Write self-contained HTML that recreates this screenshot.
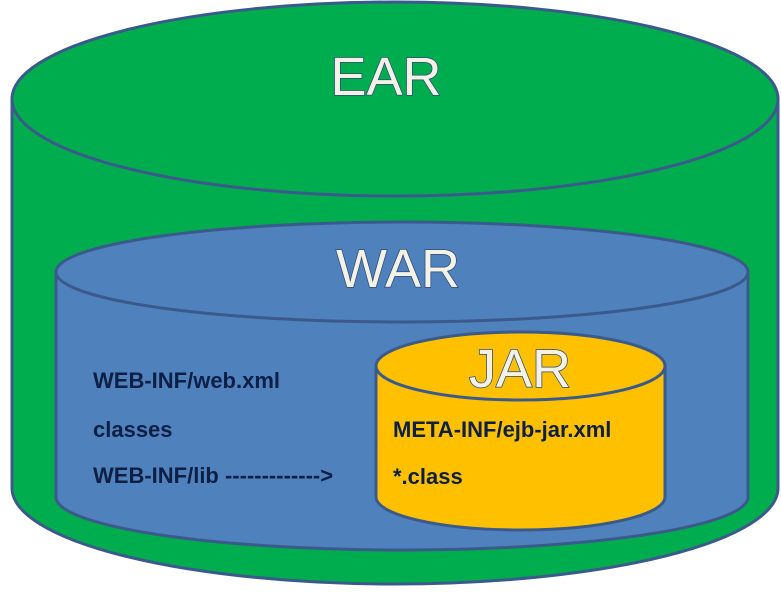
<!DOCTYPE html>
<html><head><meta charset="utf-8"><style>
html,body{margin:0;padding:0;background:#fff;width:781px;height:594px;overflow:hidden}
svg{display:block}
.t{font-family:"Liberation Sans",sans-serif;font-weight:bold;font-size:22px;fill:#0d1f45}
.h{font-family:"Liberation Sans",sans-serif;font-size:54px;fill:#f4f2e4;stroke:#2d4a7a;stroke-width:1.5;paint-order:stroke}
</style></head><body>
<svg width="781" height="594" viewBox="0 0 781 594">
<!-- EAR -->
<path d="M12,98 L12,488 A383,96 0 0 0 778,488 L778,98 Z" fill="#00ad4e" stroke="#3b5a8c" stroke-width="3"/>
<ellipse cx="395" cy="99" rx="383" ry="97" fill="#00ad4e" stroke="#3b5a8c" stroke-width="3"/>
<text class="h" x="386" y="95" text-anchor="middle">EAR</text>
<!-- WAR -->
<path d="M56,272 L56,497 A346,53 0 0 0 748,497 L748,272 Z" fill="#4f81bd" stroke="#3b5a8c" stroke-width="3"/>
<ellipse cx="402" cy="272" rx="346" ry="50" fill="#4f81bd" stroke="#3b5a8c" stroke-width="3"/>
<text class="h" x="398" y="287" text-anchor="middle">WAR</text>
<!-- JAR -->
<path d="M376,366 L376,497 A144.5,33 0 0 0 665,497 L665,366 Z" fill="#ffc000" stroke="#3b5a8c" stroke-width="3"/>
<ellipse cx="520.5" cy="366" rx="144.5" ry="34" fill="#ffc000" stroke="#3b5a8c" stroke-width="3"/>
<text class="h" x="520" y="387" text-anchor="middle">JAR</text>
<!-- labels -->
<text class="t" x="93" y="388">WEB-INF/web.xml</text>
<text class="t" x="93" y="437">classes</text>
<text class="t" x="93" y="483">WEB-INF/lib -------------&gt;</text>
<text class="t" x="393" y="437">META-INF/ejb-jar.xml</text>
<text class="t" x="393" y="484">*.class</text>
</svg>
</body></html>
